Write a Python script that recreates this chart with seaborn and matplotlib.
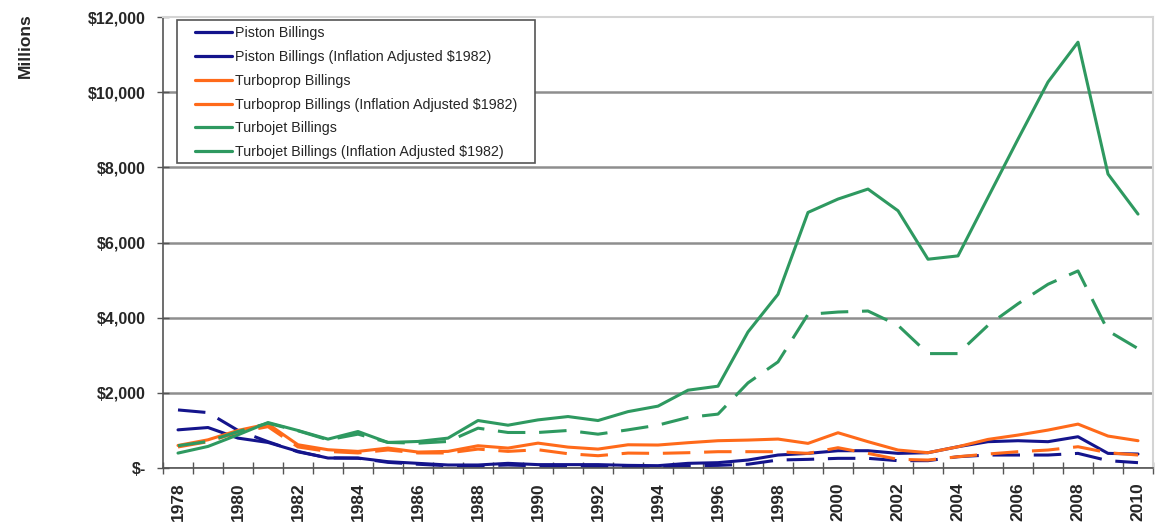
import matplotlib
matplotlib.use("Agg")
import matplotlib.pyplot as plt
from matplotlib.lines import Line2D
from matplotlib.patches import Rectangle
from matplotlib.ticker import FuncFormatter, FixedLocator
import seaborn as sns
import pandas as pd

years = list(range(1978, 2011))

piston = [1015, 1077, 795, 680, 442, 265, 265, 168, 124, 80, 80, 124, 90, 90, 90, 70,
          62, 124, 142, 212, 345, 389, 460, 460, 389, 407, 566, 700, 726, 700, 832, 389, 372]
piston_adj = [1545, 1474, 1000, 700, 430, 270, 260, 150, 100, 60, 55, 80, 55, 50, 45, 35,
              30, 60, 70, 100, 212, 230, 257, 257, 195, 195, 300, 345, 345, 345, 389, 195, 142]
turboprop = [600, 750, 1000, 1170, 618, 486, 442, 530, 424, 442, 592, 530, 662, 556, 503, 618,
             611, 673, 726, 743, 770, 655, 938, 700, 478, 407, 566, 761, 876, 1009, 1168, 850, 726]
turboprop_adj = [560, 700, 950, 1100, 560, 440, 400, 480, 400, 400, 503, 442, 486, 380, 327, 397,
                 389, 407, 434, 434, 434, 389, 540, 389, 230, 212, 300, 372, 434, 478, 566, 407, 345]
turbojet = [397, 574, 883, 1210, 998, 768, 971, 680, 706, 795, 1263, 1139, 1280, 1369, 1263, 1500,
            1646, 2070, 2177, 3620, 4622, 6800, 7156, 7422, 6845, 5555, 5644, 7200, 8750, 10270, 11330, 7822, 6756]
turbojet_adj = [592, 706, 971, 1192, 990, 750, 900, 680, 660, 706, 1060, 945, 945, 998, 900, 1015,
                1141, 1345, 1434, 2265, 2823, 4088, 4150, 4177, 3796, 3044, 3044, 3796, 4370, 4889, 5244, 3650, 3177]

labels = ["Piston Billings", "Piston Billings (Inflation Adjusted $1982)",
          "Turboprop Billings", "Turboprop Billings (Inflation Adjusted $1982)",
          "Turbojet Billings", "Turbojet Billings (Inflation Adjusted $1982)"]
series = [piston, piston_adj, turboprop, turboprop_adj, turbojet, turbojet_adj]
colors = ["#14148c", "#14148c", "#ff6a1a", "#ff6a1a", "#2e9960", "#2e9960"]

sns.set_style("white")
plt.rcParams['font.family'] = ['Liberation Sans', 'DejaVu Sans']

fig = plt.figure(figsize=(11.56, 5.29), dpi=100)
ax = fig.add_axes([163 / 1156, 61 / 529, 990 / 1156, 451 / 529])

for lab, vals, c in zip(labels, series, colors):
    df = pd.DataFrame({"Year": years, "Value": vals})
    dashed = "Adjusted" in lab
    sns.lineplot(data=df, x="Year", y="Value", ax=ax, color=c, linewidth=2.2,
                 linestyle=(0, (9, 4.5)) if dashed else "-", legend=False)

ax.set_xlim(1977.5, 2010.5)
ax.set_ylim(0, 12000)
ax.set_xlabel("")
ax.set_ylabel("")

# gridlines
ax.set_yticks(range(0, 12001, 2000))
ax.yaxis.grid(True, color="#8e8e8e", linewidth=1.8)
ax.yaxis.get_gridlines()[-1].set_visible(False)
ax.set_axisbelow(True)
ax.yaxis.set_major_formatter(FuncFormatter(lambda v, p: "$-" if v == 0 else f"${v:,.0f}"))
ax.tick_params(axis="y", direction="inout", length=9, width=1, color="#555555",
               labelsize=11.5, pad=8, left=True)

ax.xaxis.set_major_locator(FixedLocator(list(range(1978, 2011, 2))))
ax.xaxis.set_minor_locator(FixedLocator([y + 0.5 for y in range(1977, 2011)]))
ax.tick_params(axis="x", which="major", length=0, labelsize=12.5, pad=10, labelrotation=90)
ax.tick_params(axis="x", which="minor", direction="inout", length=9, width=1,
               color="#555555", bottom=True)
for t in ax.get_xticklabels() + ax.get_yticklabels():
    t.set_fontweight("bold")

for s in ["left", "bottom"]:
    ax.spines[s].set_color("#555555")
    ax.spines[s].set_linewidth(1.2)
for s in ["top", "right"]:
    ax.spines[s].set_color("#d4d4d4")
    ax.spines[s].set_linewidth(1.5)

fig.text(0.022, 0.975, "Millions", rotation=90, va="top", ha="center",
         fontsize=12.5, fontweight="bold")

# legend box (drawn separately so its padding matches the original)
box = Rectangle((177 / 1156, 1 - 163 / 529), 358 / 1156, 143 / 529,
                transform=fig.transFigure, facecolor="white", edgecolor="#555555",
                linewidth=1.2, zorder=4, clip_on=False)
ax.add_patch(box)
handles = [Line2D([0], [0], color=c, linewidth=2.3) for c in colors]
leg = ax.legend(handles, labels, loc="upper left", bbox_to_anchor=(195 / 1156, 1 - 26 / 529),
                bbox_transform=fig.transFigure, borderaxespad=0, borderpad=0, fontsize=10.3,
                frameon=False, handlelength=2.6, handletextpad=0.2, labelspacing=0.69)
leg.set_zorder(5)

fig.savefig("out.png", dpi=100)
